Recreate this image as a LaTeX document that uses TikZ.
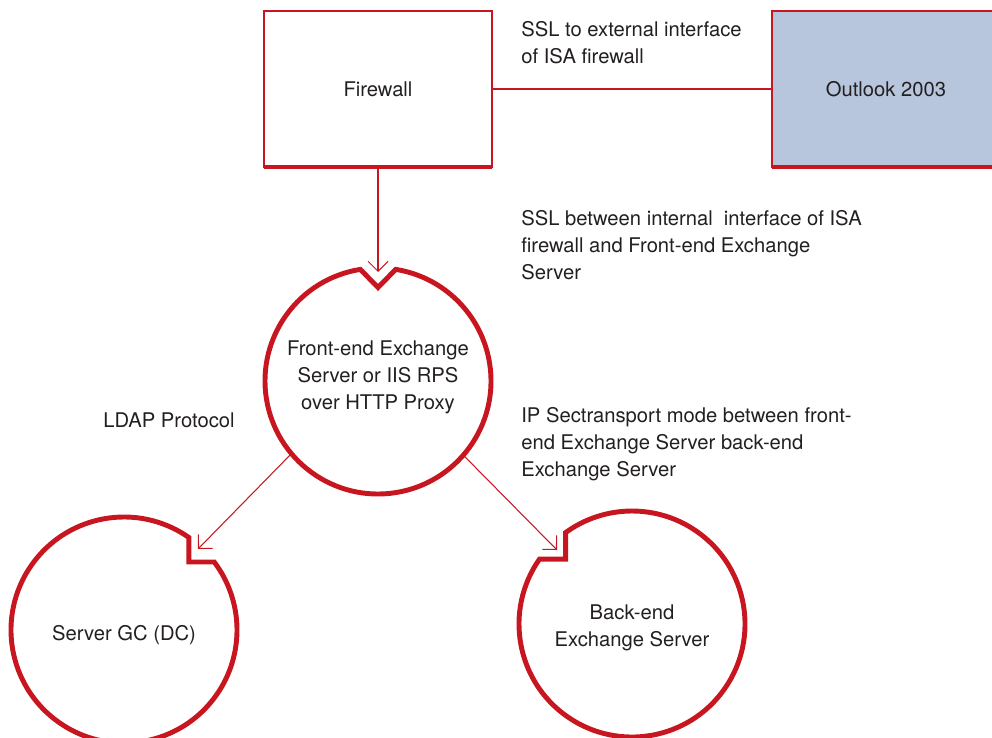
\documentclass[tikz,border=0pt]{standalone}
\usepackage{fontspec}
\setmainfont{TeX Gyre Heros}
\usetikzlibrary{arrows.meta}
\definecolor{isared}{RGB}{200,22,32}
\definecolor{isablue}{RGB}{183,198,221}
\definecolor{isatext}{RGB}{35,31,32}

\begin{document}
\begin{tikzpicture}[font=\fontsize{11.5}{15.4}\selectfont, text=isatext,
		box/.style={draw=isared, line width=0.6pt, minimum width=4.56cm, minimum height=3.12cm, inner sep=0pt, outer sep=0pt},
		ring/.style={circle, minimum size=4.52cm, inner sep=0pt, outer sep=0pt, align=center},
		ringline/.style={draw=isared, line width=2.8pt, line join=miter},
		barline/.style={draw=isared, line width=2.8pt},
		link/.style={draw=isared, line width=0.6pt},
		arr/.style={link, -{Straight Barb[length=2mm, width=4mm]}},
		note/.style={anchor=west, align=left, inner sep=0pt}]
		\useasboundingbox (0,0) rectangle (19.84,14.74);

		\node[box] (FW) at (7.56, 12.96) {Firewall};
		\node[box, fill=isablue] (OL) at (17.72, 12.96) {Outlook 2003};
		\node[ring] (FE) at (7.56, 7.12) {Front-end Exchange\\Server or IIS RPS\\over HTTP Proxy\rule[-2.4mm]{0pt}{0pt}};
		\node[ring] (GC) at (2.48, 2.14) {\rule{0pt}{5mm}Server GC (DC)};
		\node[ring] (BE) at (12.64, 2.26) {\rule{0pt}{4.5mm}Back-end\\Exchange Server};

		\node[note] (sslExt) at (10.42, 13.89) {SSL to external interface\\of ISA firewall};
		\node[note] (sslInt) at (10.42, 9.84) {SSL between internal\ \ interface of ISA\\firewall and Front-end Exchange\\Server};
		\node[note] (ipsec) at (10.42, 5.86) {IP Sectransport mode between front-\\end Exchange Server back-end\\Exchange Server};
		\node[note] (ldap) at (2.06, 6.34) {LDAP Protocol};

		\coordinate (feTip) at (7.56, 9.30);
		\coordinate (gcTip) at (3.96, 3.76);
		\coordinate (beTip) at (11.14, 3.74);

		% notched outlines
		\draw[ringline] (FE.99) arc[start angle=99, end angle=441, radius=2.26] -- ([yshift=1.87cm]FE.center) -- cycle;
		\draw[ringline] (GC.55) arc[start angle=55, end angle=397, radius=2.26] -- (GC.55 |- GC.37) -- cycle;
		\draw[ringline] (BE.145) arc[start angle=145, end angle=486, radius=2.26] -- (BE.126 |- BE.145) -- cycle;

		\draw[barline] (FW.south west) -- (FW.south east);
		\draw[barline] (OL.south west) -- (OL.south east);

		\path (FW) edge[link] (OL)
		(FW) edge[arr] (feTip)
		(FE.220) edge[arr] (gcTip)
		(FE.319) edge[arr] (beTip);

	\end{tikzpicture}
\end{document}
